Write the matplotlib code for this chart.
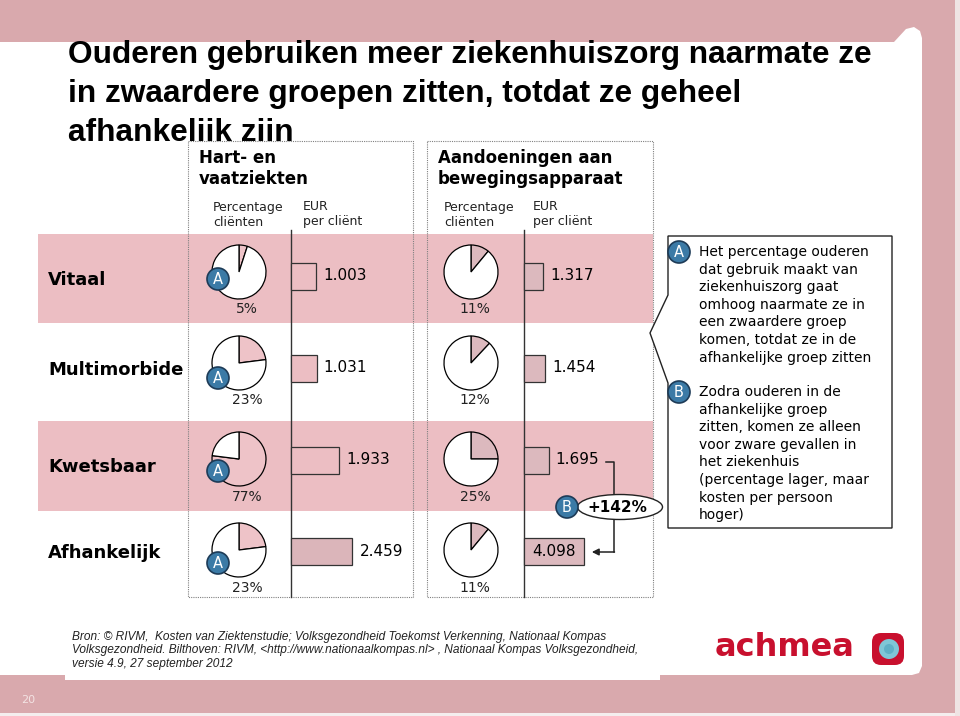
import matplotlib
matplotlib.use('Agg')
import matplotlib.pyplot as plt
from matplotlib.patches import Polygon, Rectangle, Circle, Ellipse, FancyBboxPatch

# data
rows = ['Vitaal', 'Multimorbide', 'Kwetsbaar', 'Afhankelijk']
hvz_pct = [5, 23, 77, 23]            # percentage clienten, hart- en vaatziekten
hvz_eur = [1003, 1031, 1933, 2459]   # EUR per client
bew_pct = [11, 12, 25, 11]           # aandoeningen bewegingsapparaat
bew_eur = [1317, 1454, 1695, 4098]
groups = ['Hart- en\nvaatziekten', 'Aandoeningen aan\nbewegingsapparaat']
sub_pct = 'Percentage\ncliënten'
sub_eur = 'EUR\nper cliënt'

title = ['Ouderen gebruiken meer ziekenhuiszorg naarmate ze',
         'in zwaardere groepen zitten, totdat ze geheel',
         'afhankelijk zijn']
note_a = ['Het percentage ouderen', 'dat gebruik maakt van', 'ziekenhuiszorg gaat',
          'omhoog naarmate ze in', 'een zwaardere groep', 'komen, totdat ze in de',
          'afhankelijke groep zitten']
note_b = ['Zodra ouderen in de', 'afhankelijke groep', 'zitten, komen ze alleen',
          'voor zware gevallen in', 'het ziekenhuis', '(percentage lager, maar',
          'kosten per persoon', 'hoger)']
source = ['Bron: © RIVM,  Kosten van Ziektenstudie; Volksgezondheid Toekomst Verkenning, Nationaal Kompas',
          'Volksgezondheid. Bilthoven: RIVM, <http://www.nationaalkompas.nl> , Nationaal Kompas Volksgezondheid,',
          'versie 4.9, 27 september 2012']

# colours
frame_c = '#d9a9ad'
band_c = '#ecbec3'
hvz_bar_c = [band_c, band_c, band_c, '#dbb5ba']
bew_bar_c = '#dcb9be'
hvz_pie_c = '#eec3c8'
bew_pie_c = '#dcb9be'
badge_c = '#3b7aa6'
red = '#c8102e'

# layout (pixels)
label_y = [280, 370, 467, 553]
pie_y = [272, 363, 459, 550]
bar_y = [276, 368, 460, 551]
pct_y = [309, 400, 497, 588]
badge_y = [279, 378, 471, 563]
bands = [(234, 323), (421, 511)]

def fmt(v):
    return f'{v:,}'.replace(',', '.')

fig = plt.figure(figsize=(9.6, 7.16), dpi=100)
fig.patch.set_facecolor(frame_c)
ax = fig.add_axes([0, 0, 1, 1])
ax.set_facecolor(frame_c)

# white slide area with a small tab top right
ax.add_patch(Polygon([(0, 42), (894, 42), (906, 29), (914, 27), (920, 31), (922, 38),
                      (922, 666), (919, 673), (912, 675), (0, 675)],
                     closed=True, fc='white', ec='none', zorder=0.5))
ax.add_patch(Rectangle((65, 620), 595, 60, fc='white', ec='none', zorder=0.5))
ax.add_patch(Rectangle((0, 713), 960, 3, fc='#f4eeee', ec='none', zorder=0.6))
ax.add_patch(Rectangle((955, 0), 5, 716, fc='#efe4e4', ec='none', zorder=0.6))

for i, line in enumerate(title):
    ax.text(68, 63 + i * 39, line, fontsize=22.8, fontweight='bold', family='Liberation Sans',
            va='baseline', ha='left', zorder=1)

cols = [
    dict(box=(188, 413), head_x=199, sub_x=(213, 303), axis_x=291, pie_x=239, pct_x=247,
         scale=0.025, pct=hvz_pct, eur=hvz_eur, pie_c=hvz_pie_c, bar_c=hvz_bar_c),
    dict(box=(427, 653), head_x=438, sub_x=(444, 533), axis_x=524, pie_x=471, pct_x=475,
         scale=0.0146, pct=bew_pct, eur=bew_eur, pie_c=bew_pie_c, bar_c=[bew_bar_c] * 4),
]

# white column boxes (cover the title descenders)
for c in cols:
    x0, x1 = c['box']
    ax.add_patch(Rectangle((x0, 141), x1 - x0, 456, fc='white', ec='none', zorder=1.5))

# pink row bands
for y0, y1 in bands:
    ax.add_patch(Rectangle((38, y0), 653 - 38, y1 - y0, fc=band_c, ec='none', zorder=2))

for c in cols:
    x0, x1 = c['box']
    ax.add_patch(Rectangle((x0, 141), x1 - x0, 456, fill=False, ec='#808080', lw=0.8,
                           ls=(0, (1, 1)), zorder=3))
    ax.plot([c['axis_x'], c['axis_x']], [230, 597], color='#333333', lw=1.0, zorder=3)
    g = groups[cols.index(c)].split('\n')
    for k, line in enumerate(g):
        ax.text(c['head_x'], 158 + k * 21, line, fontsize=12, fontweight='bold',
                va='center', ha='left', zorder=4)
    for sx, sub in zip(c['sub_x'], [sub_pct, sub_eur]):
        for k, line in enumerate(sub.split('\n')):
            ax.text(sx, 207 + k * 15, line, fontsize=9, color='#222222',
                    va='center', ha='left', zorder=4)

    # pies
    for i, p in enumerate(c['pct']):
        ax.pie([p, 100 - p], colors=[c['pie_c'], 'white'], startangle=270, counterclock=True,
               center=(c['pie_x'], pie_y[i]), radius=27, frame=True,
               wedgeprops=dict(edgecolor='black', linewidth=0.9, zorder=4))
        ax.text(c['pct_x'], pct_y[i], f'{p}%', fontsize=10, color='#222222',
                ha='center', va='center', zorder=4)

    # bars
    widths = [v * c['scale'] for v in c['eur']]
    ax.barh(bar_y, widths, left=c['axis_x'], height=27, color=c['bar_c'],
            edgecolor='#333333', linewidth=0.9, zorder=4)

# value labels
for i, v in enumerate(hvz_eur):
    ax.text(cols[0]['axis_x'] + v * cols[0]['scale'] + 7, bar_y[i], fmt(v), fontsize=11,
            va='center', ha='left', zorder=5)
for i, v in enumerate(bew_eur):
    w = v * cols[1]['scale']
    if i < 3:
        ax.text(cols[1]['axis_x'] + w + 7, bar_y[i], fmt(v), fontsize=11,
                va='center', ha='left', zorder=5)
    else:
        ax.text(cols[1]['axis_x'] + w / 2, bar_y[i], fmt(v), fontsize=11,
                va='center', ha='center', zorder=5)

# row labels
for i, r in enumerate(rows):
    ax.text(48, label_y[i], r, fontsize=13, fontweight='bold', va='center', ha='left', zorder=5)


def badge(x, y, letter):
    ax.add_patch(Circle((x, y), 11, fc=badge_c, ec='#1d3b57', lw=1.2, zorder=7))
    ax.text(x, y + 0.5, letter, color='white', fontsize=10.5, ha='center', va='center', zorder=8)


for y in badge_y:
    badge(218, y, 'A')

# +142% connector
tip_x = cols[1]['axis_x'] + bew_eur[3] * cols[1]['scale'] + 8
ax.plot([606, 614, 614], [bar_y[2] + 2, bar_y[2] + 2, bar_y[3] + 1], color='#222222', lw=1.1, zorder=5)
ax.annotate('', xy=(tip_x, bar_y[3] + 1), xytext=(614.5, bar_y[3] + 1),
            arrowprops=dict(arrowstyle='-|>', color='#222222', lw=1.1, mutation_scale=10,
                            shrinkA=0, shrinkB=0), zorder=5)
ax.add_patch(Ellipse((620, 507), 85, 25, fc='white', ec='#222222', lw=1.0, zorder=6))
increase = round((bew_eur[3] / bew_eur[2] - 1) * 100)
ax.text(617, 507.5, f'+{increase}%', fontsize=11, fontweight='bold', ha='center', va='center', zorder=7)
badge(567, 507, 'B')

# callout box
ax.add_patch(Polygon([(668, 236), (892, 236), (892, 528), (668, 528), (668, 383),
                      (650, 333), (668, 295)], closed=True, fc='white', ec='#222222',
                     lw=1.0, zorder=5))
badge(679, 252, 'A')
for k, line in enumerate(note_a):
    ax.text(699, 252 + k * 17.6, line, fontsize=10, va='center', ha='left', zorder=6)
badge(679, 392, 'B')
for k, line in enumerate(note_b):
    ax.text(699, 392 + k * 17.6, line, fontsize=10, va='center', ha='left', zorder=6)

# source
for k, line in enumerate(source):
    ax.text(72, 637 + k * 13.5, line, fontsize=8.55, style='italic', family='Liberation Sans',
            color='#222222', va='center', ha='left', zorder=6)

# achmea logo
ax.text(715, 648, 'achmea', fontsize=23, fontweight='bold', color=red, va='center',
        ha='left', zorder=6)
ax.add_patch(FancyBboxPatch((872, 633), 32, 32, boxstyle='round,pad=0,rounding_size=9',
                            fc=red, ec='none', zorder=6))
ax.add_patch(Circle((889, 649), 10, fc='#7fc6d6', ec='none', zorder=7))
ax.add_patch(Circle((889, 649), 5, fc='#5fb0c6', ec='none', zorder=7))

ax.text(28, 700, '20', fontsize=8, color='#f3e3e3', ha='center', va='center', zorder=6)

ax.set_xlim(0, 960)
ax.set_ylim(716, 0)
ax.set_aspect('auto')
ax.axis('off')

fig.savefig('out.png', dpi=100, facecolor=frame_c)
